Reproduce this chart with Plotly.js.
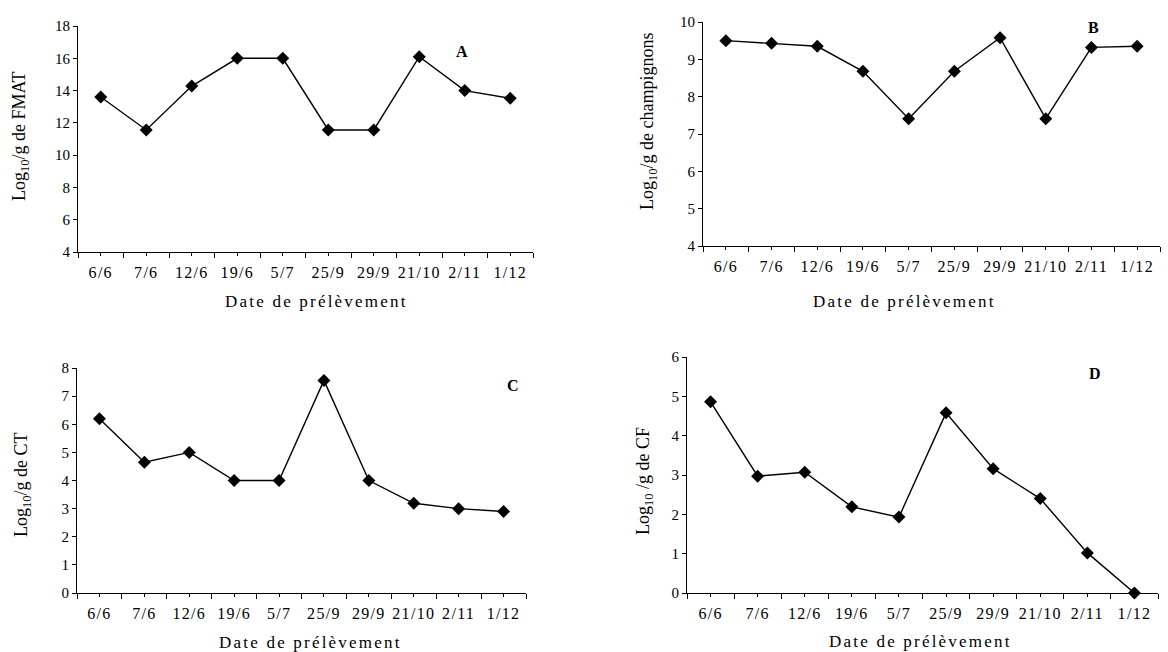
<!DOCTYPE html>
<html>
<head>
<meta charset="utf-8">
<script src="https://cdn.plot.ly/plotly-3.0.1.min.js"></script>
<style>
  html, body { margin: 0; padding: 0; background: #fff; }
  #chart { width: 1168px; height: 652px; }
  .xtick text, .x2tick text, .x3tick text, .x4tick text { letter-spacing: 1.3px; }
  .annotation[data-index="2"] text, .annotation[data-index="5"] text,
  .annotation[data-index="8"] text, .annotation[data-index="11"] text { letter-spacing: 2.2px; }
</style>
</head>
<body>
<div id="chart"></div>
<script>
// ---- Data ----
const dates = ["6/6", "7/6", "12/6", "19/6", "5/7", "25/9", "29/9", "21/10", "2/11", "1/12"];
const fmat = [13.6, 11.56, 14.28, 16.0, 16.0, 11.56, 11.56, 16.1, 14.0, 13.52];
const champignons = [9.5, 9.43, 9.35, 8.68, 7.41, 8.68, 9.58, 7.41, 9.32, 9.35];
const ct = [6.2, 4.65, 5.0, 4.0, 4.0, 7.56, 4.0, 3.19, 3.0, 2.9];
const cf = [4.86, 2.97, 3.07, 2.19, 1.93, 4.58, 3.16, 2.4, 1.02, 0.0];

const panelLetters = ["A", "B", "C", "D"];
const yTitles = ["Log<sub>10</sub>/g de FMAT", "Log<sub>10</sub>/g de champignons",
                 "Log<sub>10</sub>/g de CT", "Log<sub>10</sub> /g de CF"];
const xTitle = "Date de prélèvement";

// ---- Layout helpers ----
const W = 1168, H = 652;
const FONT = "Liberation Serif, Times New Roman, serif";
const px2x = p => p / W;
const px2y = p => 1 - p / H;

// category centres (positions on a 0..10 linear axis)
const xpos = dates.map((d, i) => i + 0.5);

const panels = [
  {vals: fmat,        yr: [4, 18], dt: 2, x0: 78,  x1: 533,  yTop: 26,  yBot: 252,
   letter: [462, 52],  ytitle: [20, 136],  xtitle: [316, 301]},
  {vals: champignons, yr: [4, 10], dt: 1, x0: 703, x1: 1160, yTop: 22,  yBot: 246,
   letter: [1093, 28], ytitle: [648, 121], xtitle: [904, 301]},
  {vals: ct,          yr: [0, 8],  dt: 1, x0: 77,  x1: 526,  yTop: 368, yBot: 593,
   letter: [513, 385], ytitle: [22, 485],  xtitle: [310, 642]},
  {vals: cf,          yr: [0, 6],  dt: 1, x0: 687, x1: 1158, yTop: 357, yBot: 593,
   letter: [1095, 373], ytitle: [644, 481], xtitle: [920, 641]}
];

const data = [];
const layout = {
  width: W, height: H,
  margin: {l: 0, r: 0, t: 0, b: 0},
  paper_bgcolor: "#fff", plot_bgcolor: "#fff",
  showlegend: false,
  font: {family: FONT, color: "#000", size: 14},
  annotations: []
};

panels.forEach((p, k) => {
  const n = k + 1;
  const xs = n === 1 ? "" : String(n);
  const ovl = String(n + 4);
  const xd = [px2x(p.x0), px2x(p.x1)];
  const yd = [px2y(p.yBot), px2y(p.yTop)];

  data.push({
    type: "scatter", mode: "lines+markers",
    x: xpos, y: p.vals,
    xaxis: "x" + xs, yaxis: "y" + xs,
    line: {color: "#000", width: 1.4},
    marker: {symbol: "diamond", size: 10, color: "#000"},
    cliponaxis: false,
    hoverinfo: "skip"
  });

  layout["xaxis" + xs] = {
    domain: xd, anchor: "y" + xs, range: [0, 10],
    tickmode: "array", tickvals: xpos, ticktext: dates,
    ticks: "outside", ticklen: 3, tickwidth: 1, tickcolor: "#000",
    ticklabelstandoff: 3,
    minor: {tickmode: "linear", tick0: 0, dtick: 1, ticks: "outside", ticklen: 5, tickwidth: 1, tickcolor: "#000"},
    showline: true, linecolor: "#000", linewidth: 1,
    showgrid: false, zeroline: false, fixedrange: true,
    tickfont: {family: FONT, size: 16, color: "#000"}
  };
  // overlay axis so that the tick marks cross the axis line
  layout["xaxis" + ovl] = {
    domain: xd, anchor: "y" + xs, overlaying: "x" + xs, range: [0, 10],
    tickmode: "array", tickvals: xpos, showticklabels: false,
    ticks: "inside", ticklen: 2, tickwidth: 1, tickcolor: "#000",
    minor: {tickmode: "linear", tick0: 0, dtick: 1, ticks: "inside", ticklen: 4, tickwidth: 1, tickcolor: "#000"},
    showline: false, showgrid: false, zeroline: false, fixedrange: true
  };

  layout["yaxis" + xs] = {
    domain: yd, anchor: "x" + xs, range: p.yr,
    tickmode: "linear", tick0: p.yr[0], dtick: p.dt,
    ticks: "outside", ticklen: 4, tickwidth: 1, tickcolor: "#000",
    showline: true, linecolor: "#000", linewidth: 1,
    showgrid: false, zeroline: false, fixedrange: true,
    tickfont: {family: FONT, size: 15, color: "#000"}
  };

  layout.annotations.push({
    text: "<b>" + panelLetters[k] + "</b>", xref: "paper", yref: "paper",
    x: px2x(p.letter[0]), y: px2y(p.letter[1]), showarrow: false,
    xanchor: "center", yanchor: "middle", font: {family: FONT, size: 16, color: "#000"}
  });
  layout.annotations.push({
    text: yTitles[k], xref: "paper", yref: "paper", textangle: -90,
    x: px2x(p.ytitle[0]), y: px2y(p.ytitle[1]), showarrow: false,
    xanchor: "center", yanchor: "middle", font: {family: FONT, size: 18, color: "#000"}
  });
  layout.annotations.push({
    text: xTitle, xref: "paper", yref: "paper",
    x: px2x(p.xtitle[0]), y: px2y(p.xtitle[1]), showarrow: false,
    xanchor: "center", yanchor: "middle", font: {family: FONT, size: 17, color: "#000"}
  });
});

Plotly.newPlot("chart", data, layout, {displayModeBar: false, staticPlot: true});
</script>
</body>
</html>
